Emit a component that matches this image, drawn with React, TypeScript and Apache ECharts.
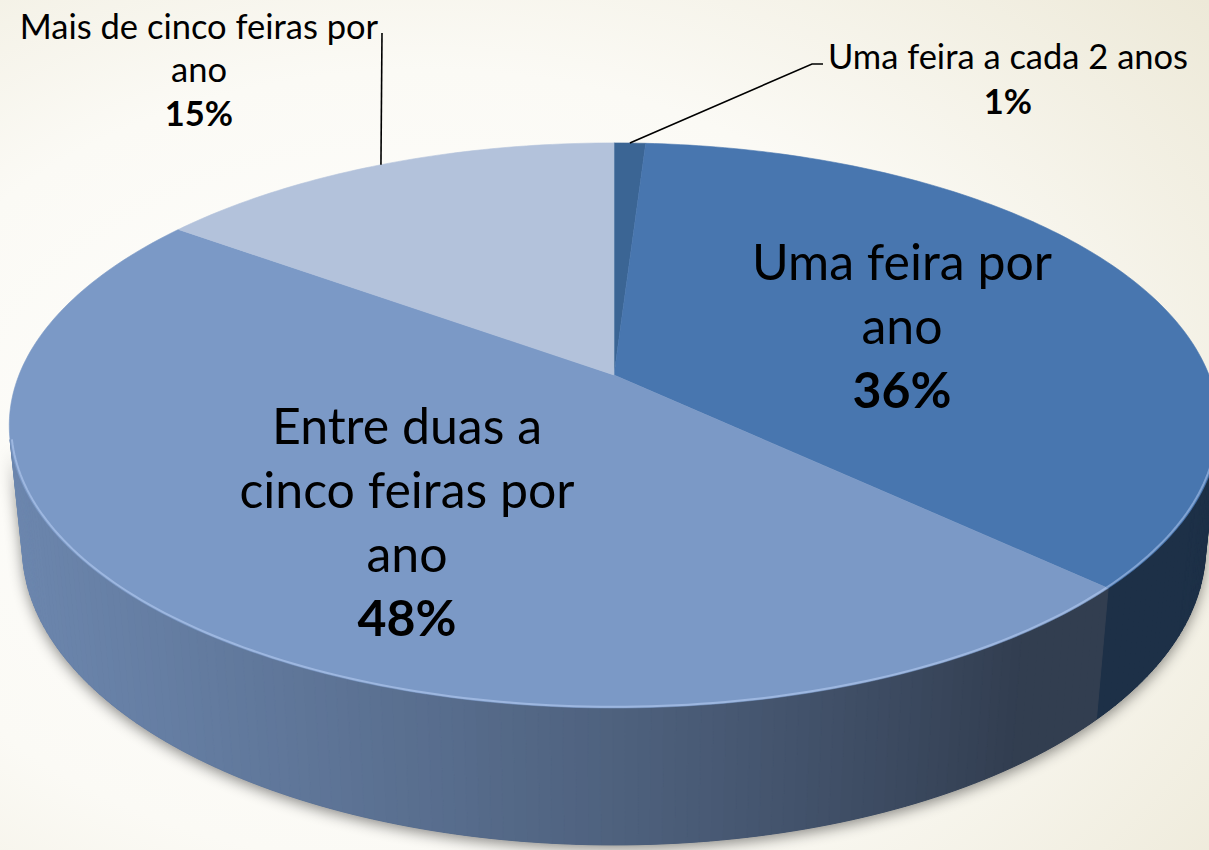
import React, { useEffect, useRef } from "react";
import * as echarts from "echarts";

// ---- data ----
const categories = [
  "Uma feira a cada 2 anos",
  "Uma feira por\nano",
  "Entre duas a\ncinco feiras por\nano",
  "Mais de cinco feiras por\nano",
];
const values = [1, 36, 48, 15];
const topColors = ["#3B6594", "#4876AF", "#7B99C6", "#B3C2DB"];

// ---- layout (label placement, not data) ----
const labelLayout = [
  { x: 1008, y: 55, lh: 45, size: 34.5 },
  { x: 902, y: 261, lh: 64, size: 50 },
  { x: 407, y: 425, lh: 64, size: 50 },
  { x: 199, y: 25, lh: 43.5, size: 34.5 },
];
const leaderEnds: number[][][] = [
  [[812, 64], [823, 64]],
  [],
  [],
  [[382, 33]],
];

// ---- 3D projection of the pie ----
const CX = 614;
const CY = 375;
const F = 2959;
const DIST = 4.973;
const COSA = 0.888;
const SINA = 0.4597;
const H = 0.232;
const FONT = "Lato, 'Open Sans', sans-serif";

function proj(phi: number, y: number, r = 1): number[] {
  const x = Math.sin(phi) * r;
  const z = Math.cos(phi) * r;
  const yc = y * COSA + z * SINA;
  const d = DIST + z * COSA - y * SINA;
  return [CX + (F * x) / d, CY - (F * yc) / d];
}

const K = 1 / (DIST * COSA);
const VIS0 = Math.acos(-K);
const VIS1 = 2 * Math.PI - Math.acos(-K);

function shade(hex: string, f: number): string {
  const n = parseInt(hex.slice(1), 16);
  const r = Math.round(((n >> 16) & 255) * f);
  const g = Math.round(((n >> 8) & 255) * f);
  const b = Math.round((n & 255) * f);
  return `rgb(${Math.min(255, r)},${Math.min(255, g)},${Math.min(255, b)})`;
}

function sideFactor(phi: number) {
  const s = Math.sin(phi);
  return Math.max(0.405, 0.635 - 0.34 * s - 0.09 * s * s);
}

const total = values.reduce((a, b) => a + b, 0);
const cum: number[] = [0];
values.forEach((v, i) => cum.push(cum[i] + v));
const sliceData = values.map((v, i) => [cum[i] / total, cum[i + 1] / total]);

function renderSide(params: any, api: any) {
  const a0 = api.value(0) * 2 * Math.PI;
  const a1 = api.value(1) * 2 * Math.PI;
  const idx = params.dataIndex;
  const children: any[] = [];
  if (idx === 0) {
    const pts: number[][] = [];
    const n = 120;
    for (let i = 0; i <= n; i++) pts.push(proj(VIS0 + ((VIS1 - VIS0) * i) / n, -H));
    for (let i = n; i >= 0; i--) pts.push(proj(VIS0 + ((VIS1 - VIS0) * i) / n, 0));
    children.push({
      type: "polygon",
      shape: { points: pts },
      style: {
        fill: "#4a5670",
        shadowBlur: 14,
        shadowColor: "rgba(0,0,0,0.45)",
        shadowOffsetY: 4,
      },
    });
  }
  const s = Math.max(a0, VIS0);
  const e = Math.min(a1, VIS1);
  if (e > s) {
    const step = Math.PI / 180;
    const n = Math.max(1, Math.ceil((e - s) / step));
    for (let i = 0; i < n; i++) {
      const p0 = s + ((e - s) * i) / n;
      const p1 = s + ((e - s) * (i + 1)) / n;
      const c = shade(topColors[idx], sideFactor((p0 + p1) / 2));
      children.push({
        type: "polygon",
        shape: { points: [proj(p0, 0), proj(p1, 0), proj(p1, -H), proj(p0, -H)] },
        style: { fill: c, stroke: c, lineWidth: 1 },
      });
    }
  }
  return { type: "group", children };
}

function renderTop(params: any, api: any) {
  const a0 = api.value(0) * 2 * Math.PI;
  const a1 = api.value(1) * 2 * Math.PI;
  const idx = params.dataIndex;
  const col = topColors[idx];
  const n = Math.max(2, Math.ceil((a1 - a0) / (Math.PI / 180)));
  const pts: number[][] = [[CX, CY]];
  for (let i = 0; i <= n; i++) pts.push(proj(a0 + ((a1 - a0) * i) / n, 0));
  const children: any[] = [
    {
      type: "polygon",
      shape: { points: pts },
      style: { fill: col, stroke: col, lineWidth: 0.6 },
    },
  ];
  const s = Math.max(a0, VIS0);
  const e = Math.min(a1, VIS1);
  if (e > s) {
    const rim: number[][] = [];
    const m = Math.max(2, Math.ceil((e - s) / (Math.PI / 180)));
    for (let i = 0; i <= m; i++) rim.push(proj(s + ((e - s) * i) / m, 0, 0.997));
    children.push({
      type: "polyline",
      shape: { points: rim },
      style: { stroke: "rgba(200,220,255,0.45)", lineWidth: 2, fill: null },
    });
  }
  return { type: "group", children };
}

function buildGraphics() {
  const els: any[] = [
    {
      type: "rect",
      z: -100,
      shape: { x: 0, y: 0, width: 1209, height: 850 },
      style: {
        fill: {
          type: "radial",
          x: 0.35,
          y: 0.55,
          r: 0.85,
          colorStops: [
            { offset: 0, color: "#FFFFFF" },
            { offset: 0.55, color: "#FBFAF5" },
            { offset: 1, color: "#EDE9D8" },
          ],
        },
      },
    },
  ];
  values.forEach((v, i) => {
    const L = labelLayout[i];
    const lines = categories[i].split("\n");
    lines.forEach((t, j) => {
      els.push({
        type: "text",
        z: 100,
        style: {
          text: t,
          x: L.x,
          y: L.y + j * L.lh,
          fill: "#000000",
          font: `normal ${L.size}px ${FONT}`,
          textAlign: "center",
          textVerticalAlign: "middle",
          align: "center",
          verticalAlign: "middle",
        },
      });
    });
    els.push({
      type: "text",
      z: 100,
      style: {
        text: `${v}%`,
        x: L.x,
        y: L.y + lines.length * L.lh,
        fill: "#000000",
        font: `bold ${L.size}px ${FONT}`,
        textAlign: "center",
        textVerticalAlign: "middle",
        align: "center",
        verticalAlign: "middle",
      },
    });
    if (leaderEnds[i].length) {
      const mid = ((cum[i] + cum[i + 1]) / 2 / total) * 2 * Math.PI;
      const anchor = proj(mid, 0);
      els.push({
        type: "polyline",
        z: 90,
        shape: { points: [anchor, ...leaderEnds[i]] },
        style: { stroke: "#000000", lineWidth: 1.6, fill: null },
      });
    }
  });
  return els;
}

export default function App() {
  const ref = useRef<HTMLDivElement>(null);
  useEffect(() => {
    if (!ref.current) return;
    const chart = echarts.init(ref.current, undefined, { renderer: "svg" });
    chart.setOption({
      animation: false,
      backgroundColor: "#FBFAF6",
      graphic: { elements: buildGraphics() },
      series: [
        {
          type: "custom",
          name: "side",
          coordinateSystem: "none",
          silent: true,
          z: 2,
          renderItem: renderSide,
          data: sliceData,
        },
        {
          type: "custom",
          name: "top",
          coordinateSystem: "none",
          silent: true,
          z: 3,
          renderItem: renderTop,
          data: sliceData,
        },
      ],
    });
    return () => chart.dispose();
  }, []);
  return (
    <div
      ref={ref}
      style={{ position: "absolute", left: 0, top: 0, width: 1209, height: 850 }}
    />
  );
}
